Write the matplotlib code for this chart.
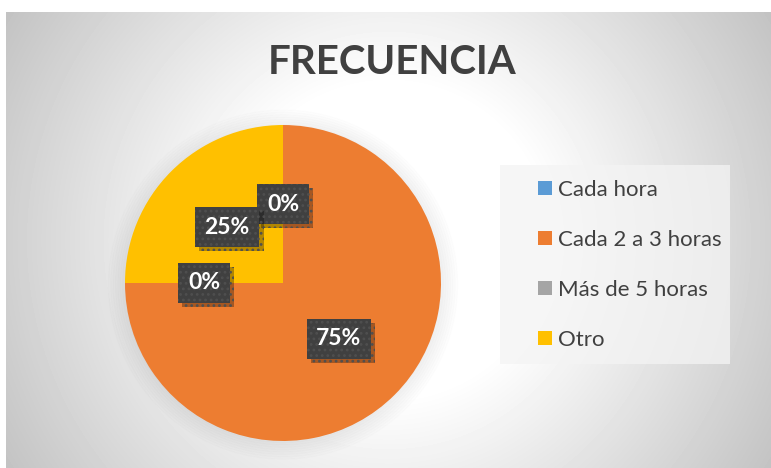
import matplotlib.pyplot as plt
import matplotlib.patches as mpatches
import matplotlib.patheffects as pe
import numpy as np

plt.rcParams['font.family'] = ['Lato', 'DejaVu Sans']

# datos de la encuesta
categorias = ['Cada hora', 'Cada 2 a 3 horas', 'Más de 5 horas', 'Otro']
valores = [0, 75, 0, 25]
colores = ['#5B9BD5', '#ED7D31', '#A5A5A5', '#FFC000']
titulo = 'FRECUENCIA'

W, H = 771, 468
fig = plt.figure(figsize=(W / 100, H / 100), dpi=100)
fig.patch.set_facecolor('white')

# fondo con degradado radial
bg = fig.add_axes([6 / W, 0, (W - 6) / W, (H - 12) / H])
bw, bh = W - 6, H - 12
yy, xx = np.mgrid[0:bh, 0:bw]
d = np.hypot(xx - bw / 2, yy - bh / 2)
gris = np.clip(255 - 0.208 * (d - 156), 0, 255) / 255
bg.imshow(gris, cmap='gray', vmin=0, vmax=1, aspect='auto', interpolation='bilinear')
bg.axis('off')

fig.text(392 / W, 1 - 62 / H, titulo, ha='center', va='center',
         fontsize=29, fontweight='bold', color='#404040')

# caja clara de la leyenda
fig.patches.append(mpatches.Rectangle((500 / W, 1 - 364 / H), 230 / W, 199 / H,
                                      transform=fig.transFigure, facecolor='#f4f4f4',
                                      alpha=0.75, edgecolor='none', zorder=1))

cx, cy, r = 283, 283, 158
ax = fig.add_axes([(cx - r) / W, (H - cy - r) / H, 2 * r / W, 2 * r / H])
ax.set_zorder(2)

# sombra difusa del pastel
for i in range(8):
    ax.add_patch(mpatches.Circle((0.0, -0.01), 1 + 0.015 * i, color='k',
                                 alpha=0.008, clip_on=False, zorder=0))

wedges, _, autotexts = ax.pie(valores, colors=colores, startangle=90, counterclock=False,
                              autopct='%1.0f%%', pctdistance=0.5, radius=1,
                              wedgeprops=dict(linewidth=0, zorder=1),
                              textprops=dict(color='white', fontsize=16.5, fontweight='bold'))
ax.set_xlim(-1, 1)
ax.set_ylim(-1, 1)

plt.rcParams['hatch.linewidth'] = 1.2
for t in autotexts:
    t.set_bbox(dict(boxstyle='square,pad=0.42', facecolor='#404040',
                    edgecolor='#4f4f4f', linewidth=0, hatch='...'))
    t.get_bbox_patch().set_path_effects([
        pe.withSimplePatchShadow(offset=(3, -3), shadow_rgbFace='k', alpha=0.3),
        pe.Normal()])
    t.set_zorder(5)

handles = [mpatches.Patch(facecolor=c, edgecolor='none') for c in colores]
leg = fig.legend(handles, categorias, loc='upper left',
                 bbox_to_anchor=(518 / W, 1 - 160 / H), frameon=False,
                 fontsize=16, labelcolor='#404040', handlelength=0.62,
                 handleheight=0.62, handletextpad=0.3, labelspacing=1.35)

fig.savefig('out.png', dpi=100)
